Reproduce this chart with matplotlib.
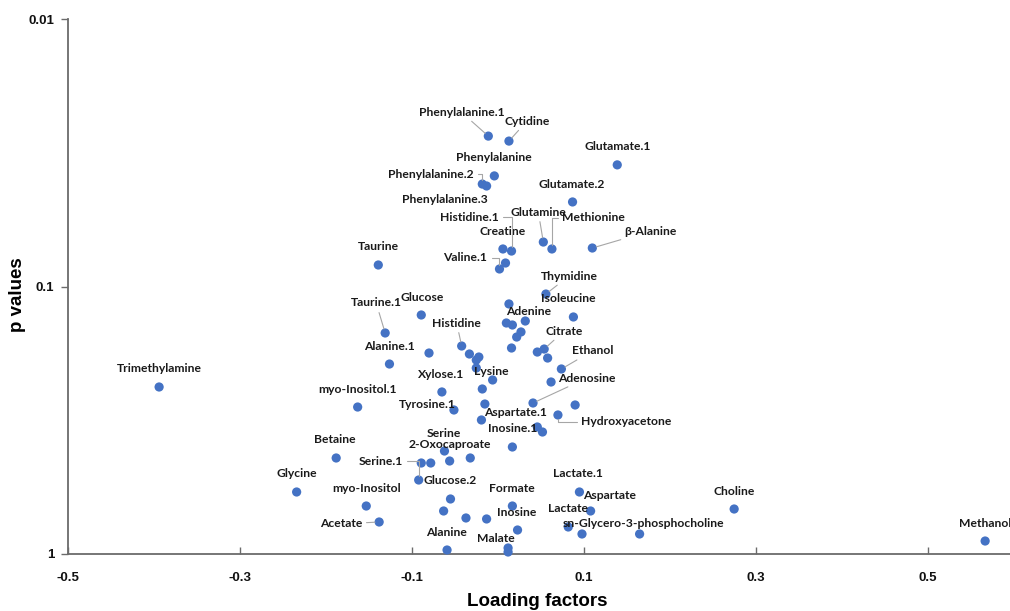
import matplotlib
matplotlib.use("Agg")
import matplotlib.pyplot as plt
from matplotlib.ticker import FixedLocator, FixedFormatter, NullLocator

# ---------------- data ----------------
names = [
    "Phenylalanine.1", "Cytidine", "Glutamate.1", "Phenylalanine", "Phenylalanine.2",
    "Phenylalanine.3", "Glutamate.2", "Glutamine", "Methionine", "β-Alanine",
    "Creatine", "Histidine.1", "", "Valine.1", "Taurine",
    "Thymidine", "", "Isoleucine", "Glucose", "Taurine.1",
    "", "", "", "Adenine", "",
    "", "Histidine", "Alanine.1", "", "Citrate",
    "", "", "", "", "",
    "", "Ethanol", "", "", "Xylose.1",
    "Lysine", "Trimethylamine", "myo-Inositol.1", "Adenosine", "Tyrosine.1",
    "", "", "Hydroxyacetone", "", "Aspartate.1",
    "", "Inosine.1", "Betaine", "Serine", "",
    "2-Oxocaproate", "", "", "Serine.1", "Glycine",
    "myo-Inositol", "Acetate", "Glucose.2", "", "",
    "", "Formate", "Inosine", "Alanine", "Malate",
    "", "Lactate.1", "Aspartate", "Lactate", "",
    "sn-Glycero-3-phosphocholine", "Choline", "Methanol",
]
loading = [
    -0.011, 0.013, 0.139, -0.004, -0.018,
    -0.013, 0.087, 0.053, 0.063, 0.110,
    0.006, 0.016, 0.009, 0.002, -0.139,
    0.056, 0.013, 0.088, -0.089, -0.131,
    0.010, 0.017, 0.032, 0.027, 0.022,
    0.016, -0.042, -0.126, -0.080, 0.054,
    0.046, 0.058, -0.033, -0.025, -0.022,
    -0.025, 0.074, -0.006, 0.062, -0.065,
    -0.018, -0.394, -0.163, 0.041, -0.051,
    -0.015, 0.090, 0.070, -0.019, 0.046,
    0.052, 0.017, -0.188, -0.062, -0.032,
    -0.056, -0.089, -0.078, -0.092, -0.234,
    -0.153, -0.138, -0.055, -0.063, -0.037,
    -0.013, 0.017, 0.023, -0.059, 0.012,
    0.012, 0.095, 0.108, 0.082, 0.098,
    0.165, 0.275, 0.567,
]
pvalues = [
    0.0274, 0.0286, 0.0351, 0.0386, 0.0414,
    0.0421, 0.0483, 0.0682, 0.0724, 0.0718,
    0.0724, 0.0737, 0.0817, 0.0860, 0.0831,
    0.1067, 0.1162, 0.1300, 0.1278, 0.1492,
    0.1369, 0.1393, 0.1346, 0.1479, 0.1545,
    0.1698, 0.1669, 0.1949, 0.1773, 0.1713,
    0.1758, 0.1851, 0.1788, 0.1883, 0.1835,
    0.2017, 0.2034, 0.2236, 0.2275, 0.2479,
    0.2416, 0.2375, 0.2822, 0.2726, 0.2895,
    0.2750, 0.2773, 0.3022, 0.3155, 0.3351,
    0.3499, 0.3981, 0.4376, 0.4121, 0.4376,
    0.4491, 0.4569, 0.4569, 0.5289, 0.5864,
    0.6616, 0.7592, 0.6228, 0.6906, 0.7334,
    0.7397, 0.6616, 0.8134, 0.9662, 0.9497,
    0.9829, 0.5864, 0.6906, 0.7925, 0.8418,
    0.8418, 0.6789, 0.8942,
]
x_ticks = [-0.5, -0.3, -0.1, 0.1, 0.3, 0.5]
x_ticklabels = ["-0.5", "-0.3", "-0.1", "0.1", "0.3", "0.5"]
y_ticks = [0.01, 0.1, 1]
y_ticklabels = ["0.01", "0.1", "1"]

# ---------------- label layout (offsets in pixels, up positive) ----------------
label_layout = {
    "Phenylalanine.1": (-27, 24, "line"),
    "Cytidine": (18, 20, "line"),
    "Glutamate.1": (0, 18, None),
    "Phenylalanine": (0, 18, None),
    "Phenylalanine.2": (-51, 10, "elbow"),
    "Phenylalanine.3": (-42, -14, None),
    "Glutamate.2": (-1, 17, None),
    "Glutamine": (-5, 30, "line"),
    "Methionine": (42, 31, "elbow"),
    "β-Alanine": (58, 17, "line"),
    "Creatine": (0, 17, None),
    "Histidine.1": (-42, 34, "elbow"),
    "Valine.1": (-34, 11, "elbow"),
    "Taurine": (0, 18, None),
    "Thymidine": (23, 18, "line"),
    "Isoleucine": (-5, 18, None),
    "Glucose": (1, 17, None),
    "Taurine.1": (-9, 30, "line"),
    "Adenine": (8, 20, None),
    "Histidine": (-5, 23, "line"),
    "Alanine.1": (0, 18, None),
    "Citrate": (20, 18, "line"),
    "Ethanol": (31, 18, "line"),
    "Lysine": (9, 17, None),
    "Adenosine": (54, 25, "line"),
    "Xylose.1": (-1, 17, None),
    "Trimethylamine": (0, 18, None),
    "myo-Inositol.1": (0, 18, None),
    "Tyrosine.1": (-27, 5, None),
    "Hydroxyacetone": (68, -7, "elbow"),
    "Aspartate.1": (-22, 14, None),
    "Inosine.1": (0, 18, None),
    "Betaine": (-1, 18, None),
    "Serine": (-1, 18, None),
    "2-Oxocaproate": (0, 17, None),
    "Serine.1": (-38, 19, "elbow"),
    "Glycine": (0, 18, None),
    "myo-Inositol": (0, 18, None),
    "Acetate": (-38, -2, "line"),
    "Glucose.2": (0, 18, None),
    "Formate": (-1, 18, None),
    "Inosine": (-1, 18, None),
    "Alanine": (-1, 18, None),
    "Malate": (-12, 10, None),
    "Lactate.1": (-1, 18, None),
    "Aspartate": (19, 15, None),
    "Lactate": (0, 18, None),
    "sn-Glycero-3-phosphocholine": (4, 10, None),
    "Choline": (0, 18, None),
    "Methanol": (0, 18, None),
}

# ---------------- figure ----------------
W, H = 1010, 611
fig = plt.figure(figsize=(W / 100, H / 100), dpi=100)
ax = fig.add_axes([68 / W, (H - 554) / H, (W - 68) / W, (554 - 19) / H])

axis_color = "#6b6b6b"
marker_color = "#4472C4"

ax.scatter(loading, pvalues, s=44, color=marker_color, edgecolors="none", zorder=3, clip_on=False)

ax.set_yscale("log")
ax.set_ylim(1, 0.01)
ax.set_xlim(-0.5, (W - 497.5) / 860)

ax.yaxis.set_major_locator(FixedLocator(y_ticks))
ax.yaxis.set_major_formatter(FixedFormatter(y_ticklabels))
ax.yaxis.set_minor_locator(NullLocator())
ax.xaxis.set_major_locator(FixedLocator(x_ticks))
ax.xaxis.set_major_formatter(FixedFormatter(x_ticklabels))

for side in ("top", "right"):
    ax.spines[side].set_visible(False)
for side in ("left", "bottom"):
    ax.spines[side].set_color(axis_color)
    ax.spines[side].set_linewidth(1.3)

ax.tick_params(axis="x", direction="in", length=5, width=1, color=axis_color, pad=13)
ax.tick_params(axis="y", direction="out", length=5, width=1, color=axis_color, pad=5)
for lbl in ax.get_xticklabels() + ax.get_yticklabels():
    lbl.set_fontfamily("Liberation Sans")
    lbl.set_fontweight("bold")
    lbl.set_fontsize(9.5)
    lbl.set_color("#111111")

ax.set_xlabel("Loading factors", fontsize=13.5, fontweight="bold", family="Liberation Sans")
ax.set_ylabel("p values", fontsize=13.5, fontweight="bold", family="Liberation Sans")
ax.xaxis.set_label_coords(537.5 / W, (H - 601) / H, transform=fig.transFigure)
ax.xaxis.label.set_va("center")
ax.yaxis.set_label_coords(18 / W, (H - 295) / H, transform=fig.transFigure)
ax.yaxis.label.set_va("center")

label_font = dict(family="Lato", weight="bold", size=8.7, color="#1a1a1a")
for name, xv, pv in zip(names, loading, pvalues):
    if not name or name not in label_layout:
        continue
    dx, dy, leader = label_layout[name]
    kw = {}
    if leader == "line":
        kw["arrowprops"] = dict(arrowstyle="-", color="#a6a6a6", lw=0.8, shrinkA=1, shrinkB=3)
    elif leader == "elbow":
        kw["arrowprops"] = dict(arrowstyle="-", color="#a6a6a6", lw=0.8, shrinkA=1, shrinkB=3,
                                connectionstyle="angle,angleA=0,angleB=90,rad=0")
    ax.annotate(name, (xv, pv), xytext=(dx, dy), textcoords="offset pixels",
                ha="center", va="center", annotation_clip=False, zorder=4, **label_font, **kw)

fig.savefig("out.png", dpi=100)
